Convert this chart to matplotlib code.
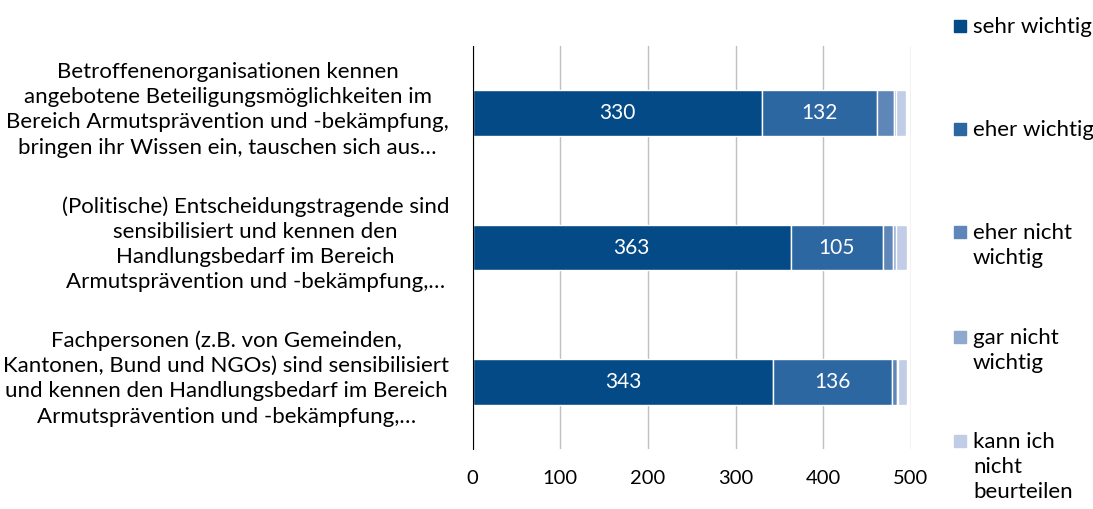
import matplotlib.pyplot as plt
from matplotlib.patches import Rectangle
from matplotlib.transforms import ScaledTranslation

plt.rcParams['font.family'] = ['Lato', 'DejaVu Sans']

# Data
categories = [
    'Betroffenenorganisationen kennen\nangebotene Beteiligungsmöglichkeiten im\nBereich Armutsprävention und -bekämpfung,\nbringen ihr Wissen ein, tauschen sich aus…',
    '(Politische) Entscheidungstragende sind\nsensibilisiert und kennen den\nHandlungsbedarf im Bereich\nArmutsprävention und -bekämpfung,…',
    'Fachpersonen (z.B. von Gemeinden,\nKantonen, Bund und NGOs) sind sensibilisiert\nund kennen den Handlungsbedarf im Bereich\nArmutsprävention und -bekämpfung,…',
]
series_names = ['sehr wichtig', 'eher wichtig', 'eher nicht\nwichtig', 'gar nicht\nwichtig',
                'kann ich\nnicht\nbeurteilen']
sehr_wichtig = [330, 363, 343]
eher_wichtig = [132, 105, 136]
eher_nicht = [19, 12, 5]
gar_nicht = [2, 3, 2]
kann_nicht = [12, 13, 10]
show_labels = [True, True, False, False, False]

colors = ['#034A86', '#2C67A2', '#5F86B8', '#8EA8CE', '#C1CCE6']
values = [sehr_wichtig, eher_wichtig, eher_nicht, gar_nicht, kann_nicht]

W, H = 1093, 509
fig = plt.figure(figsize=(W / 100, H / 100), dpi=100)
ax = fig.add_axes([0.4325, 0.1179, 0.4007, 0.7917])

y = range(len(categories))
left = [0] * len(categories)
for vals, col, lab in zip(values, colors, show_labels):
    bars = ax.barh(y, vals, left=left, height=0.34, color=col, edgecolor='white', linewidth=1, zorder=3)
    if lab:
        ax.bar_label(bars, labels=[str(v) for v in vals], label_type='center',
                     color='white', fontsize=15)
    left = [a + b for a, b in zip(left, vals)]

ax.set_xlim(0, 500)
ax.set_ylim(2.5, -0.5)
ax.set_xticks([0, 100, 200, 300, 400, 500])
ax.set_yticks(list(y))
ax.set_yticklabels(categories, multialignment='center', fontsize=16, linespacing=1.33)
ax.tick_params(axis='x', length=0, labelsize=14.5, pad=15)
ax.tick_params(axis='y', length=0, pad=17)
ax.grid(axis='x', color='#BFBFBF', linewidth=1, zorder=0)
for s in ['top', 'right', 'bottom']:
    ax.spines[s].set_visible(False)
ax.spines['left'].set_color('black')
ax.spines['left'].set_zorder(4)

# nudge category labels up a bit
shift = ScaledTranslation(0, 8 / 100, fig.dpi_scale_trans)
for t in ax.get_yticklabels():
    t.set_transform(t.get_transform() + shift)

# legend drawn by hand, one entry every ~103 px (baseline of first line)
legend_base = [33, 136, 239, 344, 448]
for name, col, b in zip(series_names, colors, legend_base):
    fig.patches.append(Rectangle((954 / W, 1 - (b - 1) / H), 12 / W, 12 / H,
                                 transform=fig.transFigure, color=col))
    for j, line in enumerate(name.split('\n')):
        fig.text(973 / W, 1 - (b + 25 * j) / H, line, fontsize=16, va='baseline', ha='left')

plt.savefig('out.png', dpi=100)
